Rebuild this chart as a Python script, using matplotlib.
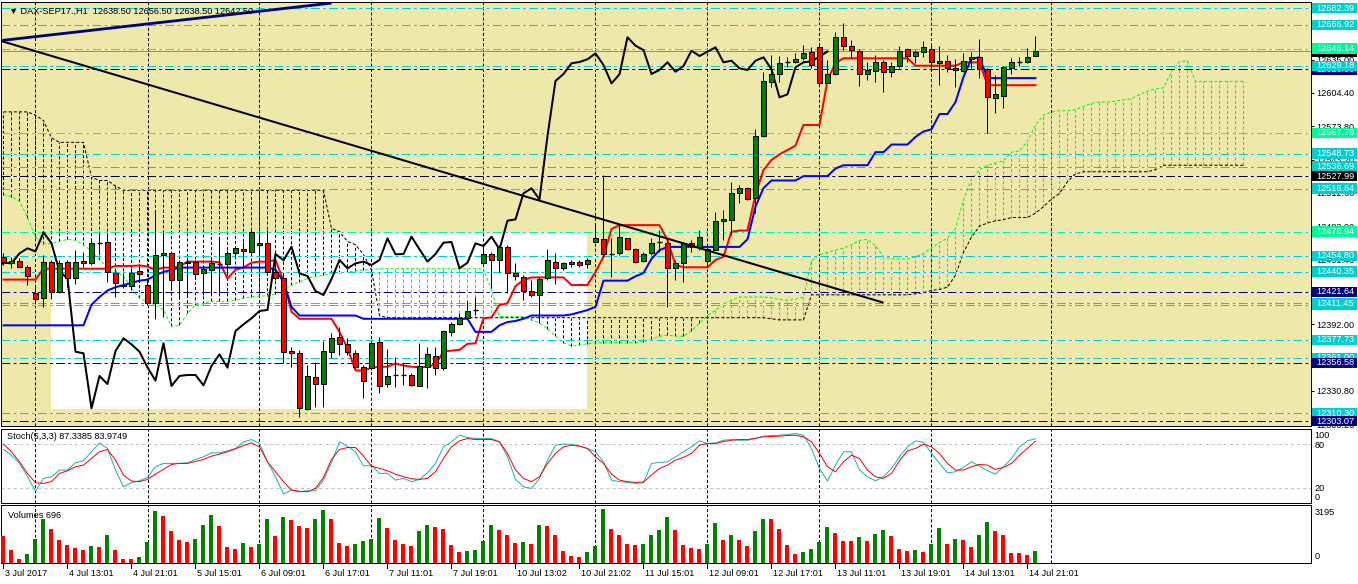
import numpy as np
import matplotlib
matplotlib.use("Agg")
import matplotlib.pyplot as plt
import matplotlib.transforms as mtransforms
from matplotlib.patches import Rectangle
from matplotlib.lines import Line2D

# ---------------- data (DAX-SEP17, H1) ----------------
opens = [12454.0, 12447.9, 12450.4, 12444.9, 12420.4, 12415.8, 12448.8, 12421.3, 12448.8, 12434.2,
         12450.1, 12447.9, 12466.3, 12467.2, 12438.7, 12428.3, 12427.1, 12440.9, 12427.7, 12411.2,
         12455.6, 12457.7, 12432.6, 12449.5, 12449.5, 12438.7, 12441.8, 12447.3, 12447.0, 12457.1,
         12460.8, 12458.6, 12464.8, 12466.3, 12440.3, 12434.2, 12367.7, 12365.3, 12313.9, 12343.9,
         12337.1, 12366.8, 12380.6, 12373.5, 12365.3, 12352.4, 12351.5, 12375.4, 12336.8, 12345.1,
         12345.7, 12345.1, 12335.6, 12353.0, 12363.1, 12351.5, 12385.2, 12391.9, 12397.4, 12404.5,
         12448.5, 12456.5, 12451.0, 12462.6, 12439.4, 12435.7, 12422.5, 12418.8, 12434.2, 12449.5,
         12443.3, 12447.3, 12449.5, 12447.3, 12467.8, 12470.0, 12457.1, 12457.1, 12470.9, 12460.8,
         12450.4, 12457.1, 12467.8, 12466.9, 12443.3, 12447.9, 12466.9, 12463.2, 12450.4, 12460.2,
         12487.1, 12487.7, 12512.2, 12516.8, 12507.6, 12565.2, 12614.7, 12621.8, 12632.2, 12633.1,
         12636.2, 12641.7, 12646.3, 12613.8, 12621.8, 12656.1, 12647.8, 12643.2, 12621.8, 12624.5,
         12632.5, 12623.3, 12629.1, 12644.4, 12638.3, 12642.3, 12644.4, 12631.6, 12634.0, 12627.0,
         12624.8, 12635.2, 12637.1, 12626.1, 12599.4, 12601.9, 12627.6, 12633.1, 12633.1, 12638.5]
highs = [12457.1, 12454.0, 12452.5, 12446.4, 12428.0, 12455.6, 12451.0, 12451.0, 12451.0, 12460.2,
         12458.6, 12469.4, 12475.5, 12475.5, 12441.8, 12437.2, 12443.3, 12446.4, 12432.0, 12496.9,
         12477.0, 12458.6, 12451.0, 12454.0, 12451.0, 12446.4, 12454.0, 12470.9, 12460.2, 12462.6,
         12467.8, 12478.5, 12477.0, 12478.5, 12457.1, 12438.7, 12371.4, 12368.3, 12354.6, 12357.6,
         12376.9, 12383.6, 12389.8, 12379.1, 12368.3, 12354.6, 12376.0, 12380.6, 12369.0, 12362.2,
         12356.1, 12346.9, 12374.5, 12371.4, 12371.4, 12386.7, 12394.4, 12402.0, 12413.6, 12417.3,
         12464.8, 12458.6, 12464.8, 12464.8, 12447.9, 12437.2, 12432.6, 12435.7, 12460.8, 12457.7,
         12449.5, 12451.0, 12451.0, 12453.1, 12483.1, 12529.0, 12470.9, 12483.1, 12471.5, 12461.7,
         12458.6, 12470.9, 12478.5, 12470.9, 12451.0, 12467.8, 12469.4, 12478.5, 12463.2, 12495.4,
         12496.9, 12522.9, 12519.9, 12518.3, 12570.9, 12623.9, 12639.2, 12638.3, 12637.7, 12640.7,
         12648.4, 12646.9, 12649.9, 12634.6, 12660.7, 12668.3, 12653.0, 12644.4, 12633.1, 12639.2,
         12634.6, 12633.1, 12647.5, 12645.4, 12643.8, 12652.4, 12648.4, 12647.5, 12639.2, 12635.2,
         12640.7, 12642.3, 12653.6, 12627.0, 12620.9, 12629.1, 12636.2, 12637.1, 12645.4, 12656.5]
lows = [12446.4, 12443.3, 12444.2, 12428.0, 12410.3, 12407.5, 12414.9, 12420.4, 12426.5, 12428.9,
        12444.9, 12446.4, 12457.1, 12431.1, 12416.7, 12425.0, 12423.4, 12431.7, 12409.7, 12396.5,
        12398.3, 12423.4, 12415.8, 12418.8, 12435.7, 12418.8, 12418.8, 12420.4, 12438.7, 12452.5,
        12446.4, 12457.1, 12455.6, 12439.7, 12432.6, 12356.1, 12353.0, 12307.1, 12313.2, 12316.3,
        12316.3, 12360.7, 12363.8, 12363.8, 12351.5, 12324.0, 12350.0, 12328.6, 12334.7, 12334.7,
        12336.2, 12335.3, 12335.3, 12333.1, 12345.4, 12350.0, 12381.2, 12391.3, 12397.4, 12400.5,
        12447.9, 12425.6, 12440.3, 12420.4, 12432.6, 12414.3, 12417.3, 12394.4, 12432.6, 12428.9,
        12441.8, 12444.2, 12444.9, 12443.3, 12467.2, 12454.0, 12435.7, 12455.6, 12460.2, 12447.9,
        12449.5, 12455.6, 12458.6, 12408.1, 12432.6, 12431.1, 12458.6, 12460.2, 12444.9, 12460.2,
        12469.4, 12473.9, 12503.0, 12506.1, 12493.8, 12564.2, 12609.5, 12614.7, 12628.5, 12631.6,
        12634.6, 12627.6, 12611.7, 12613.2, 12620.9, 12643.8, 12636.8, 12610.8, 12616.3, 12614.7,
        12605.6, 12619.3, 12627.0, 12633.1, 12631.6, 12637.1, 12627.0, 12611.7, 12623.9, 12610.2,
        12623.9, 12627.0, 12617.8, 12567.9, 12586.3, 12590.3, 12621.5, 12629.4, 12631.6, 12638.5]
closes = [12448.8, 12450.4, 12444.9, 12436.6, 12414.9, 12449.5, 12421.3, 12447.9, 12434.2, 12449.5,
          12447.9, 12466.3, 12467.2, 12439.7, 12429.6, 12427.1, 12438.7, 12437.8, 12411.2, 12455.6,
          12457.7, 12432.6, 12449.5, 12448.5, 12437.8, 12442.4, 12448.5, 12447.9, 12457.1, 12461.7,
          12458.9, 12476.4, 12466.3, 12440.3, 12434.2, 12366.8, 12365.3, 12314.8, 12344.5, 12337.1,
          12367.4, 12379.1, 12373.5, 12366.8, 12352.4, 12340.2, 12374.5, 12335.3, 12344.5, 12345.4,
          12345.4, 12335.9, 12353.6, 12364.4, 12352.1, 12385.8, 12391.9, 12397.4, 12404.2, 12405.1,
          12456.5, 12450.7, 12463.2, 12438.7, 12436.3, 12422.5, 12418.8, 12433.5, 12451.0, 12443.3,
          12447.9, 12449.5, 12446.4, 12451.0, 12470.9, 12456.2, 12456.5, 12472.4, 12460.8, 12449.5,
          12456.5, 12466.9, 12467.5, 12443.3, 12448.5, 12466.3, 12463.8, 12472.4, 12460.8, 12487.1,
          12488.3, 12512.2, 12516.8, 12506.7, 12564.9, 12615.4, 12621.8, 12631.6, 12632.8, 12635.3,
          12640.7, 12630.1, 12613.2, 12621.5, 12655.5, 12647.8, 12643.8, 12621.8, 12625.5, 12632.5,
          12623.9, 12629.1, 12643.2, 12638.3, 12642.3, 12646.3, 12632.5, 12634.0, 12627.0, 12625.5,
          12634.0, 12637.1, 12626.1, 12600.4, 12603.1, 12627.9, 12632.5, 12633.4, 12637.7, 12642.5]

# Ichimoku (9,26,52) lines
tenkan = ([12433] * 5 + [12443] * 9 + [12445.5] * 3 + [12446, 12445, 12442, 12444, 12444, 12445]
          + [12449.5] * 4 + [12449, 12434, 12442, 12444, 12448.5, 12449.5, 12449.5, 12451, 12432, 12403.5]
          + [12397] * 5 + [12385, 12370] + [12349.5] * 2 + [12352] + [12353] * 2
          + [12356, 12354, 12353, 12352.5, 12353, 12355, 12367, 12367.7, 12368.5, 12374, 12374.5,
             12397.4, 12398.3, 12409.7, 12411.2, 12427, 12432.6]
          + [12435] * 5 + [12428] * 3 + [12440, 12454, 12479.5] + [12483] * 6 + [12469.4, 12446.4]
          + [12444.3] * 4 + [12451, 12454.1, 12477] + [12478] * 2
          + [12511, 12533.6, 12542.8, 12548, 12552, 12556] + [12575] * 3 + [12616, 12632]
          + [12636.2] * 9 + [12629.4] * 6 + [12632.5] * 3 + [12611.5] * 7)
kijun = ([12391] * 11 + [12410, 12417, 12423, 12426, 12428, 12430, 12432, 12433, 12437, 12440, 12442]
         + [12444] * 12 + [12442, 12431, 12408] + [12400] * 8 + [12397] * 14 + [12385] * 3
         + [12391, 12394, 12395, 12397] + [12400] * 5 + [12401, 12403, 12405, 12408] + [12432] * 4
         + [12436, 12439, 12452, 12460] + [12463] * 10 + [12470, 12500, 12517] + [12524] * 4
         + [12528] * 4 + [12535] + [12538] * 4 + [12550] * 2 + [12557] * 3 + [12564, 12569, 12571]
         + [12585] * 2 + [12596, 12619, 12636, 12637] + [12618] * 7)
span_a = ([12511, 12509, 12505, 12490, 12472, 12466, 12466, 12468, 12470, 12469, 12465, 12459, 12451,
           12445, 12441, 12436, 12425, 12416, 12412, 12410, 12405, 12390, 12391, 12402, 12410, 12411,
           12413, 12413, 12413, 12414, 12416, 12417, 12418, 12418, 12420, 12423, 12428, 12431, 12434,
           12436, 12437, 12439, 12439, 12440, 12441, 12442, 12442]
          + [12443] * 14
          + [12423, 12399, 12399, 12399, 12399, 12396, 12393, 12388, 12381, 12375, 12372, 12373, 12374]
          + [12375] * 6
          + [12376, 12378, 12381, 12382, 12381, 12381, 12386, 12393, 12400, 12405, 12410, 12414]
          + [12417] * 4
          + [12416, 12415, 12414, 12415, 12417, 12450, 12456, 12458, 12460, 12462, 12465, 12469, 12470,
             12464, 12454, 12452, 12452, 12452, 12454, 12457, 12462, 12467, 12471, 12480, 12506, 12525,
             12534, 12538, 12540, 12542, 12550, 12551, 12560, 12575, 12584, 12587, 12588, 12588, 12589,
             12592, 12595, 12596, 12596, 12597, 12598, 12599, 12603, 12606, 12608, 12609, 12624, 12633,
             12634, 12615]
          + [12615] * 6)
span_b = ([12587] * 4 + [12584, 12579, 12563] + [12559] * 4 + [12527, 12524, 12524, 12519]
          + [12515] * 26 + [12480, 12477, 12468, 12465, 12456, 12442, 12400] + [12398] * 48
          + [12397] + [12396] * 4 + [12419] * 13
          + [12420, 12421, 12423, 12424, 12426, 12437, 12458, 12472, 12482, 12485, 12487, 12488]
          + [12490] * 3 + [12494, 12500, 12507, 12512, 12523, 12530] + [12532] * 9 + [12534]
          + [12538] * 11)

stoch_k = [72.7, 65.0, 53.8, 35.7, 16.3, 33.5, 35.7, 44.8, 44.8, 54.7,
           57.4, 69.6, 81.7, 74.1, 44.8, 22.2, 27.6, 30.3, 34.8, 49.3,
           53.8, 53.8, 53.8, 54.7, 59.2, 62.8, 68.2, 68.2, 70.9, 74.1,
           83.1, 86.2, 80.8, 56.0, 35.7, 12.3, 17.7, 15.0, 16.8, 16.8,
           31.2, 54.7, 83.1, 77.2, 69.6, 50.2, 51.5, 40.2, 40.2, 31.2,
           33.5, 29.0, 32.1, 41.1, 53.8, 76.3, 83.1, 92.1, 89.0, 87.6,
           87.6, 87.6, 83.1, 62.8, 32.1, 22.2, 19.9, 33.5, 58.3, 78.6,
           79.9, 79.9, 77.2, 74.1, 69.6, 56.0, 31.2, 29.0, 28.1, 26.7,
           27.6, 53.8, 55.1, 56.0, 62.8, 69.6, 76.3, 84.4, 80.8, 81.7,
           85.3, 86.2, 85.3, 85.3, 87.6, 90.8, 91.7, 92.1, 93.0, 94.4,
           92.1, 74.1, 47.0, 29.9, 51.5, 69.6, 69.6, 44.8, 35.7, 30.3,
           35.7, 47.0, 62.8, 76.3, 84.4, 82.6, 67.3, 53.8, 41.1, 42.5,
           48.4, 56.0, 50.2, 43.9, 39.3, 49.3, 60.5, 76.3, 84.4, 87.3385]
stoch_d = [79.9, 69.6, 56.0, 40.2, 27.6, 26.7, 29.0, 40.2, 43.9, 49.3,
           51.5, 60.5, 69.6, 72.7, 58.3, 38.0, 29.9, 29.0, 32.1, 39.3,
           45.7, 52.4, 53.8, 53.8, 56.5, 59.2, 63.7, 66.4, 69.6, 73.6,
           78.1, 81.7, 76.3, 56.0, 42.5, 29.0, 17.7, 15.9, 15.4, 19.9,
           34.8, 59.2, 72.7, 75.4, 75.4, 63.7, 50.2, 47.0, 43.9, 39.3,
           35.7, 33.0, 32.1, 33.5, 42.5, 60.5, 76.3, 84.4, 87.6, 86.2,
           86.2, 86.2, 83.1, 67.3, 44.8, 33.5, 29.0, 35.7, 53.8, 67.3,
           76.3, 78.6, 77.2, 74.1, 62.8, 53.8, 39.3, 31.2, 29.0, 28.1,
           28.5, 38.0, 47.0, 51.5, 58.3, 61.9, 67.3, 78.6, 80.8, 80.8,
           83.5, 85.3, 86.2, 86.2, 88.0, 89.9, 90.3, 90.8, 91.7, 92.1,
           89.9, 83.1, 67.3, 49.3, 42.5, 56.0, 65.0, 60.5, 44.8, 35.7,
           33.5, 40.2, 57.4, 70.9, 74.1, 79.9, 76.3, 67.3, 53.8, 44.8,
           44.8, 49.3, 52.4, 51.5, 45.7, 48.4, 53.8, 65.0, 74.1, 83.9749]
volumes = [1610, 757, 222, 519, 1412, 2601, 2026, 1352, 1055, 896,
           757, 995, 936, 1650, 757, 222, 202, 341, 1233, 3097,
           2780, 1888, 1352, 1233, 1412, 2245, 2839, 2185, 936, 817,
           1174, 936, 1114, 2601, 1590, 2720, 2542, 2185, 2066, 2601,
           3137, 2601, 1174, 995, 1114, 1293, 1412, 2661, 2066, 1352,
           1114, 995, 1888, 2245, 2126, 2026, 1055, 638, 678, 757,
           1293, 2245, 1967, 1650, 1174, 1233, 1114, 2245, 2185, 1650,
           698, 400, 361, 638, 995, 3195, 2026, 1650, 1114, 1055,
           1094, 1650, 1967, 2720, 1947, 1055, 876, 817, 1114, 2364,
           1352, 1650, 1352, 995, 1888, 2601, 2582, 2026, 1055, 519,
           638, 817, 1233, 2126, 1769, 1293, 1273, 1531, 1293, 1709,
           1947, 1590, 817, 698, 738, 638, 1114, 2066, 1114, 1412,
           1352, 936, 1650, 2423, 1888, 1650, 579, 559, 460, 696]

date_labels = ["3 Jul 2017", "4 Jul 13:01", "4 Jul 21:01", "5 Jul 15:01", "6 Jul 09:01",
               "6 Jul 17:01", "7 Jul 11:01", "7 Jul 19:01", "10 Jul 13:02", "10 Jul 21:02",
               "11 Jul 15:01", "12 Jul 09:01", "12 Jul 17:01", "13 Jul 11:01", "13 Jul 19:01",
               "14 Jul 13:01", "14 Jul 21:01"]
date_bars = [0, 8, 16, 24, 32, 40, 48, 56, 64, 72, 80, 88, 96, 104, 112, 120, 128]
grid_bars = [3.94, 18.06, 31.94, 45.94, 59.94, 73.94, 87.94, 101.94, 115.94, 130.94]

price_ticks = [12665.60, 12635.00, 12604.40, 12573.80, 12543.20, 12512.60, 12482.00,
               12451.40, 12420.80, 12392.00, 12361.40, 12330.80, 12300.20]

CY, NV, GR, BK = '#00CED1', '#000080', '#00FA9A', '#000000'
hl_prices = [12682.39, 12666.92, 12626.00, 12629.18, 12567.79, 12548.73, 12536.69, 12527.99,
             12516.64, 12476.94, 12454.80, 12440.35, 12421.64, 12409.60, 12411.45, 12377.73,
             12361.00, 12356.58, 12310.30, 12303.07]
hl_colors = [CY, CY, NV, CY, GR, CY, CY, BK, CY, GR, CY, CY, NV, CY, CY, CY, CY, NV, CY, NV]
bid_price = 12642.50
green_top = 12645.14

# trend lines (bar index, price)
tl_black = ([-0.44, 110.0], [12652.4, 12411.8])
tl_navy = ([-0.44, 41.0], [12652.4, 12686.9])
box_bars = (5.9, 73.0)
box_prices = (12314.2, 12476.9)

header = "\u25BC DAX-SEP17.,H1  12638.50 12656.50 12638.50 12642.50"

# ---------------- drawing ----------------
plt.rcParams['font.family'] = ['Liberation Sans', 'DejaVu Sans']
plt.rcParams['lines.scale_dashes'] = False

W, H = 1358, 584
PX = 0.72
FS = 6.6

fig = plt.figure(figsize=(W / 100, H / 100), dpi=100)
fig.patch.set_facecolor('white')


def rect(x0, y0, x1, y1):
    return [x0 / W, 1 - y1 / H, (x1 - x0) / W, (y1 - y0) / H]


ax = fig.add_axes(rect(1, 2, 1311, 426))
axs = fig.add_axes(rect(1, 428.5, 1311, 502.7))
axv = fig.add_axes(rect(1, 505, 1311, 563.3))

for a in (ax, axs, axv):
    a.set_xlim(-0.3125, 163.44)
    a.set_xticks([])
    for s in a.spines.values():
        s.set_linewidth(PX)
        s.set_color('black')
    for g in grid_bars:
        a.axvline(g, color='black', lw=PX, dashes=(2.2, 1.5), zorder=1)

# main panel
ax.set_ylim(12298.55, 12687.9)
ax.set_facecolor('#EEE8AA')
ax.add_patch(Rectangle((box_bars[0], box_prices[0]), box_bars[1] - box_bars[0],
                       box_prices[1] - box_prices[0], facecolor='white', edgecolor='none', zorder=0.5))

sa = np.array(span_a, float)
sb = np.array(span_b, float)
si = np.arange(len(sa))
m = sa > sb
ax.vlines(si[m], sb[m], sa[m], colors='#00FF00', linewidth=PX, linestyles=[(0, (2.2, 1.5))], zorder=1.5)
ax.vlines(si[~m], sa[~m], sb[~m], colors='black', linewidth=PX, linestyles=[(0, (2.2, 1.5))], zorder=1.5)
ax.plot(si, sa, color='#00FF00', lw=PX, dashes=(2.2, 1.5), zorder=2)
ax.plot(si, sb, color='black', lw=PX, dashes=(2.2, 1.5), zorder=2)

for p, c in zip(hl_prices, hl_colors):
    ax.axhline(p, color='white', lw=PX, zorder=2.2)
    ax.axhline(p, color=c, lw=PX, dashes=(6.5, 2.2, 2.2, 2.2), zorder=2.3)
ax.axhline(green_top, color='white', lw=PX, zorder=2.2)
ax.axhline(green_top, color=GR, lw=PX, dashes=(6.5, 2.2, 2.2, 2.2), zorder=2.3)
ax.axhline(bid_price, color='#8C8C8C', lw=PX, zorder=2.4)

bi = np.arange(len(closes))
cl = np.array(closes, float)
ax.plot(bi, tenkan, color='red', lw=2 * PX, zorder=3)
ax.plot(bi, kijun, color='blue', lw=2 * PX, zorder=3)
ax.plot(bi[25:] - 26, cl[25:], color='black', lw=2 * PX, zorder=3.2)

op = np.array(opens, float)
hi = np.array(highs, float)
lo = np.array(lows, float)
ax.vlines(bi, lo, hi, colors='black', linewidth=PX, zorder=4)
for i in range(len(bi)):
    d = cl[i] - op[i]
    if abs(d) < 1.0:
        ax.hlines((op[i] + cl[i]) / 2, i - 0.32, i + 0.32, colors='black', linewidth=1.0, zorder=4.5)
    else:
        ax.bar(i, abs(d), bottom=min(op[i], cl[i]), width=0.56,
               color='#008000' if d > 0 else '#FF0000', edgecolor='black', linewidth=PX, zorder=4.5)

ax.plot(tl_black[0], tl_black[1], color='black', lw=2 * PX, zorder=6, solid_capstyle='butt')
ax.plot(tl_navy[0], tl_navy[1], color='#000080', lw=2.8 * PX, zorder=6, solid_capstyle='butt')

# price axis
ax.yaxis.tick_right()
ax.set_yticks(price_ticks)
ax.set_yticklabels([f"{t:.2f}" for t in price_ticks])
ax.tick_params(axis='y', direction='out', length=2.2, width=PX, labelsize=FS, pad=1.6,
               colors='black')
ax.set_ylim(12298.55, 12687.9)

blend = mtransforms.blended_transform_factory(fig.transFigure, ax.transData)
hp = 10.5 / 1.089
labels = [(bid_price, BK)] + [(green_top, GR)] + list(zip(hl_prices, hl_colors))
z = 10
for p, c in labels:
    ax.add_patch(Rectangle((1312 / W, p - hp / 2), 45 / W, hp, transform=blend,
                           facecolor=c, edgecolor='none', clip_on=False, zorder=z))
    ax.text(1316.5 / W, p, f"{p:.2f}", transform=blend, ha='left', va='center',
            fontsize=FS, color='white', clip_on=False, zorder=z + 1)
    z += 2

fig.text(9 / W, 1 - 11 / H, header, ha='left', va='center', fontsize=6.6, color='black')

# stochastic panel
axs.set_ylim(0.5, 101.2)
axs.set_yticks([])
axs.set_facecolor('white')
for lv in (80, 20):
    axs.axhline(lv, color='#C0C0C0', lw=PX, dashes=(2.2, 2.2), zorder=1.2)
axs.plot(bi, stoch_k, color='#20B2AA', lw=PX, zorder=3)
axs.plot(bi, stoch_d, color='red', lw=PX, zorder=3.1)
fig.text(6.5 / W, 1 - 436.7 / H, "Stoch(5,3,3) 87.3385 83.9749", ha='left', va='center',
         fontsize=FS, color='black')
for txt, yp in (("100", 435.5), ("80", 446.0), ("20", 488.5), ("0", 497.0)):
    fig.text(1314.5 / W, 1 - yp / H, txt, ha='left', va='center', fontsize=FS, color='black')

# volume panel
vol = np.array(volumes, float)
vcol = ['#FF0000'] + ['#008000' if vol[i] > vol[i - 1] else '#FF0000' for i in range(1, len(vol))]
axv.set_ylim(-36, 3433)
axv.set_yticks([])
axv.set_facecolor('white')
axv.bar(bi, vol, width=0.5, color=vcol, edgecolor='none', zorder=3)
axv.axhline(0, color='#C0C0C0', lw=PX, dashes=(2.2, 2.2), zorder=1.2)
fig.text(7.5 / W, 1 - 515 / H, "Volumes 696", ha='left', va='center', fontsize=FS, color='black')
fig.text(1314.5 / W, 1 - 512.7 / H, "3195", ha='left', va='center', fontsize=FS, color='black')
fig.text(1314.5 / W, 1 - 556.7 / H, "0", ha='left', va='center', fontsize=FS, color='black')

# time axis
tblend = mtransforms.blended_transform_factory(axv.transData, fig.transFigure)
for b, lab in zip(date_bars, date_labels):
    fig.add_artist(Line2D([b, b], [1 - 563.3 / H, 1 - 567.5 / H], transform=tblend,
                          color='black', lw=PX))
    axv.text(b + 0.15, 1 - 573 / H, lab, transform=tblend, ha='left', va='center',
             fontsize=FS, color='black', clip_on=False)

fig.savefig("out.png", dpi=100, facecolor='white')
